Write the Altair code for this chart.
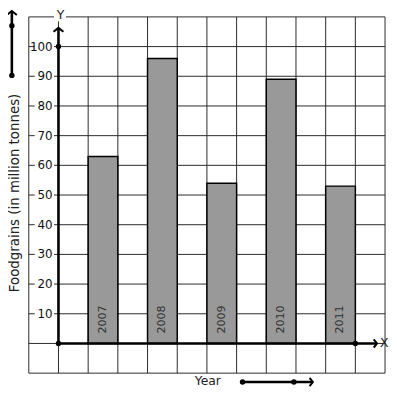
import altair as alt
import pandas as pd

years = ["2007", "2008", "2009", "2010", "2011"]
values = [63, 96, 54, 89, 53]
bar_start = [1, 3, 5, 7, 9]
tick_values = [10, 20, 30, 40, 50, 60, 70, 80, 90, 100]
grid_x = list(range(-1, 12))
grid_y = list(range(-10, 111, 10))

bars_df = pd.DataFrame({"year": years, "value": values, "x0": bar_start,
                        "x1": [b + 1 for b in bar_start], "xc": [b + 0.5 for b in bar_start],
                        "base": [0] * len(years)})
ticks_df = pd.DataFrame({"v": tick_values, "lo": [v - 2 for v in tick_values],
                         "hi": [v + 2 for v in tick_values], "label": [str(v) for v in tick_values],
                         "bx0": [-0.8] * len(tick_values), "bx1": [-0.15] * len(tick_values),
                         "lx": [-0.2] * len(tick_values)})

xs = alt.Scale(domain=[-1, 11], nice=False, zero=False)
ys = alt.Scale(domain=[-10, 110], nice=False, zero=False)
GRID = "#2a2a2a"


def qx(f):
    return alt.X(f, type="quantitative", scale=xs, axis=None)


def qy(f):
    return alt.Y(f, type="quantitative", scale=ys, axis=None)


vgrid_df = pd.DataFrame({"x": grid_x, "y0": [-10] * len(grid_x), "y1": [110] * len(grid_x)})
hgrid_df = pd.DataFrame({"y": grid_y, "x0": [-1] * len(grid_y), "x1": [11] * len(grid_y)})
vgrid = alt.Chart(vgrid_df).mark_rule(color=GRID, strokeWidth=1).encode(
    x=qx("x"), y=qy("y0"), y2="y1")
hgrid = alt.Chart(hgrid_df).mark_rule(color=GRID, strokeWidth=1).encode(
    y=qy("y"), x=qx("x0"), x2="x1")

bars = alt.Chart(bars_df).mark_rect(fill="#999999", stroke="#000", strokeWidth=1.5).encode(
    x=qx("x0"), x2="x1", y=qy("base"), y2="value"
)

bar_labels = alt.Chart(bars_df).mark_text(angle=270, align="left", baseline="middle", dx=10,
                                           fontSize=11.2, color="#333", font="DejaVu Sans").encode(
    x=qx("xc"), y=qy("base"), text="year:N"
)

label_bg = alt.Chart(ticks_df).mark_rect(fill="white").encode(
    x=qx("bx0"), x2="bx1", y=qy("lo"), y2="hi"
)
tick_labels = alt.Chart(ticks_df).mark_text(align="right", baseline="middle", fontSize=12,
                                             color="#111", font="DejaVu Sans").encode(
    x=qx("lx"), y=qy("v"), text="label:N"
)

line_style = dict(color="#000", strokeWidth=2.6)

segs_df = pd.DataFrame({
    "x0": [0, 0, -1.57, 6.2],
    "x1": [0, 10.73, -1.57, 8.57],
    "y0": [0, 0, 90.3, -13.0],
    "y1": [106.3, 0, 112.0, -13.0],
})
segs = alt.Chart(segs_df).mark_rule(**line_style).encode(
    x=qx("x0"), x2="x1", y=qy("y0"), y2="y1")

up_df = pd.DataFrame({"x": [0, -1.57], "y": [106.3, 112.0]})
right_df = pd.DataFrame({"x": [10.73, 8.57], "y": [0, -13.0]})
dots_df = pd.DataFrame({"x": [0, 0, 10, -1.57, -1.57, 6.2, 7.93],
                        "y": [0, 100, 0, 90.3, 107, -13.0, -13.0]})

up = "M -1 0.8 L 0 0 L 1 0.8"
right = "M -0.8 -1 L 0 0 L -0.8 1"


def chev(df, shape, size):
    return alt.Chart(df).mark_point(shape=shape, filled=False, stroke="#000", strokeWidth=2,
                                    size=size, opacity=1).encode(x=qx("x"), y=qy("y"))


dots = alt.Chart(dots_df).mark_point(shape="circle", filled=True, color="#000", size=30,
                                     opacity=1).encode(x=qx("x"), y=qy("y"))

ybg_df = pd.DataFrame({"x0": [-0.15], "x1": [0.25], "y0": [108.5], "y1": [111.5]})
y_bg = alt.Chart(ybg_df).mark_rect(fill="white").encode(
    x=qx("x0"), x2="x1", y=qy("y0"), y2="y1")

text_df = pd.DataFrame({"t": ["Y", "X", "Year"], "x": [0.07, 10.97, 5.03], "y": [110.5, 0, -12.6]})
texts = alt.Chart(text_df).mark_text(fontSize=12.5, color="#222", font="DejaVu Sans",
                                     align="center", baseline="middle").encode(
    x=qx("x"), y=qy("y"), text="t:N")

title_df = pd.DataFrame({"t": ["Foodgrains (in million tonnes)"], "x": [-1.32], "y": [50.7]})
title = alt.Chart(title_df).mark_text(fontSize=13.5, color="#222", font="DejaVu Sans", angle=270,
                                      align="center", baseline="alphabetic").encode(
    x=qx("x"), y=qy("y"), text="t:N")

chart = alt.layer(
    vgrid, hgrid, bars, bar_labels, label_bg, tick_labels, segs,
    chev(up_df, up, 100), chev(right_df, right, 70), dots, y_bg, texts, title,
).properties(
    width=360, height=360, autosize="none",
    padding={"left": 21, "top": 7, "right": 4, "bottom": 12},
).configure_view(stroke=None)

chart.save("out.html", embed_options={"renderer": "svg", "actions": False})
